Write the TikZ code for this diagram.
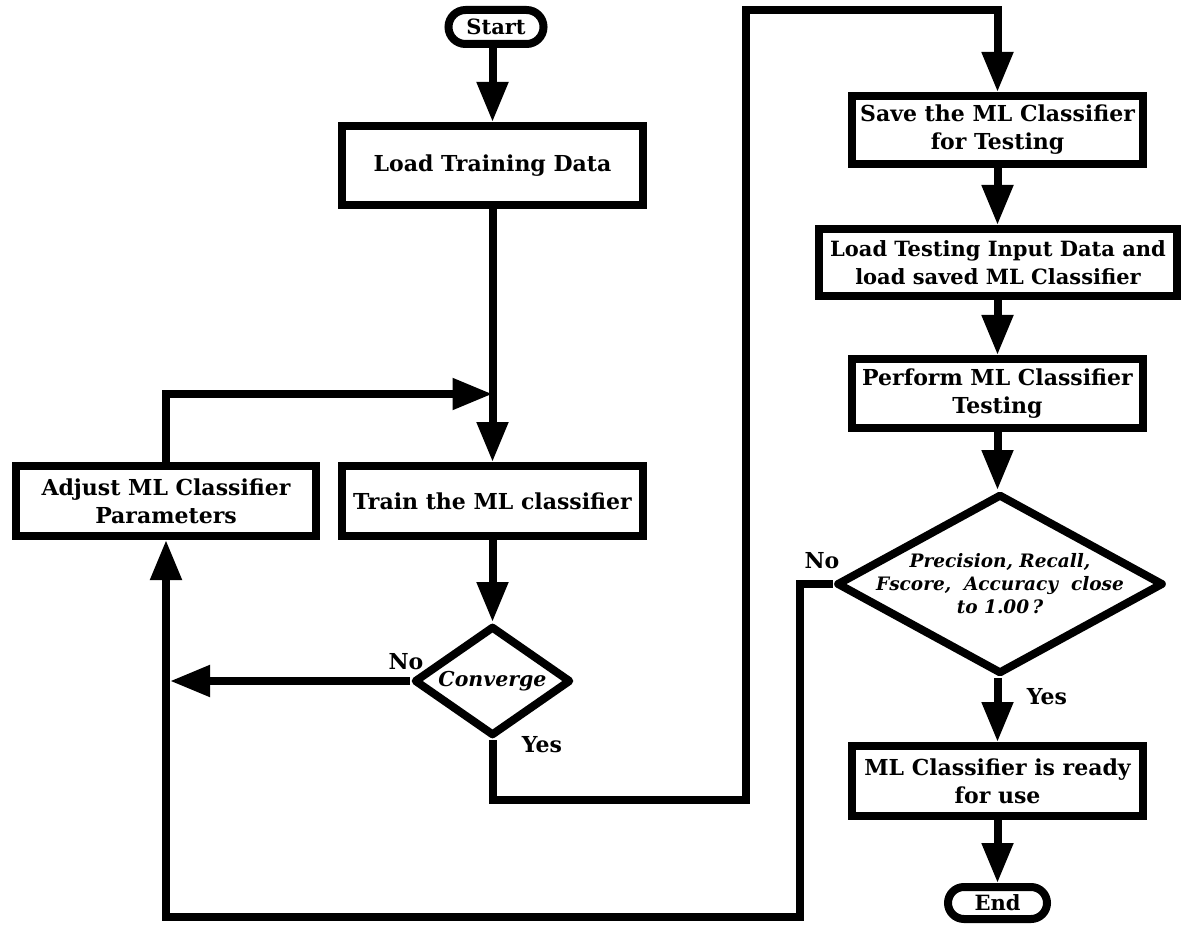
\documentclass[tikz,border=0pt]{standalone}
\usepackage{fontspec}
\setmainfont{DejaVu Serif}
\usetikzlibrary{arrows.meta,shapes.geometric,shapes.misc}
\begin{document}
\begin{tikzpicture}[x=1pt,y=-1pt,
  every node/.style={font=\fontsize{22}{28}\selectfont\bfseries},
  box/.style={draw,line width=8pt,rectangle,inner sep=0pt,align=center},
  term/.style={draw,line width=8pt,rounded rectangle,inner sep=0pt,font=\fontsize{21}{24}\selectfont\bfseries},
  dia/.style={draw,line width=8pt,diamond,inner sep=0pt,line join=round},
  conn/.style={line width=8pt},
  arr/.style={line width=8pt,-{Triangle[length=40pt,width=30pt]}},
  lbl/.style={inner sep=0pt}
]
\useasboundingbox (0,0) rectangle (1186,925);
% nodes
\node[term,minimum width=95pt,minimum height=34pt] (start) at (496,27) {Start};
\node[box,minimum width=301pt,minimum height=79pt] (load) at (492.5,165.5) {Load Training Data};
\node[box,minimum width=301pt,minimum height=70pt] (train) at (492.5,501) {Train the ML classifier};
\node[box,minimum width=300pt,minimum height=70pt] (adjust) at (166,501) {Adjust ML Classifier\\Parameters};
\node[dia,minimum width=157pt,minimum height=110pt,
  label={[lbl,font=\fontsize{20.5}{24}\selectfont\bfseries\itshape]center:Converge}] (conv) at (492.5,681) {};
\node[box,minimum width=291pt,minimum height=68pt] (save) at (997.5,130) {Save the ML Classifier\\for Testing};
\node[box,minimum width=358pt,minimum height=67pt,font=\fontsize{21}{28}\selectfont\bfseries] (loadtest) at (998,262.5) {Load Testing Input Data and\\load saved ML Classifier};
\node[box,minimum width=291pt,minimum height=69pt] (perform) at (997.5,393.5) {Perform ML Classifier\\Testing};
\node[dia,minimum width=327pt,minimum height=180pt,
  label={[lbl,align=center,font=\fontsize{18.5}{23}\selectfont\bfseries\itshape]center:Precision, Recall,\\Fscore,\ \ Accuracy\ \ close\\to 1.00\,?}] (acc) at (1000,584) {};
\node[box,minimum width=291pt,minimum height=70pt] (ready) at (997.5,781) {ML Classifier is ready\\for use};
\node[term,minimum width=99pt,minimum height=32pt] (end) at (997.5,903) {End};
% labels
\node[lbl] (no1) at (406,662) {No};
\node[lbl] (yes1) at (542,745) {Yes};
\node[lbl] (no2) at (822,561) {No};
\node[lbl] (yes2) at (1047,697) {Yes};
% helper coordinates
\coordinate (j) at (492.5,394);
\coordinate (convleft) at (170,681);
\coordinate (y1) at (492.5,800);
\coordinate (y2) at (746,800);
\coordinate (y3) at (746,10);
\coordinate (n1) at (800,584);
\coordinate (n2) at (800,917);
\coordinate (n3) at (166,917);
% connectors
\draw[arr] (start.south -| load.north) -- (load.north);
\draw[arr] (load.south) -- (train.north);
\draw[arr] (adjust.north) |- (j);
\draw[arr] (train.south) -- (conv.north);
\draw[arr] (conv.west) -- (convleft);
\draw[arr,line join=miter] (conv.south) -- (y1) -- (y2) -- (y3) -| (save.north);
\draw[arr] (save.south) -- (save.south |- loadtest.north);
\draw[arr] (loadtest.south -| perform.north) -- (perform.north);
\draw[arr] (perform.south) -- (perform.south |- acc.north);
\draw[arr] (acc.south -| ready.north) -- (ready.north);
\draw[arr,line join=miter] (acc.west) -- (n1) -- (n2) -- (n3) -- (adjust.south);
\draw[arr] (ready.south) -- (end.north);
\end{tikzpicture}
\end{document}
